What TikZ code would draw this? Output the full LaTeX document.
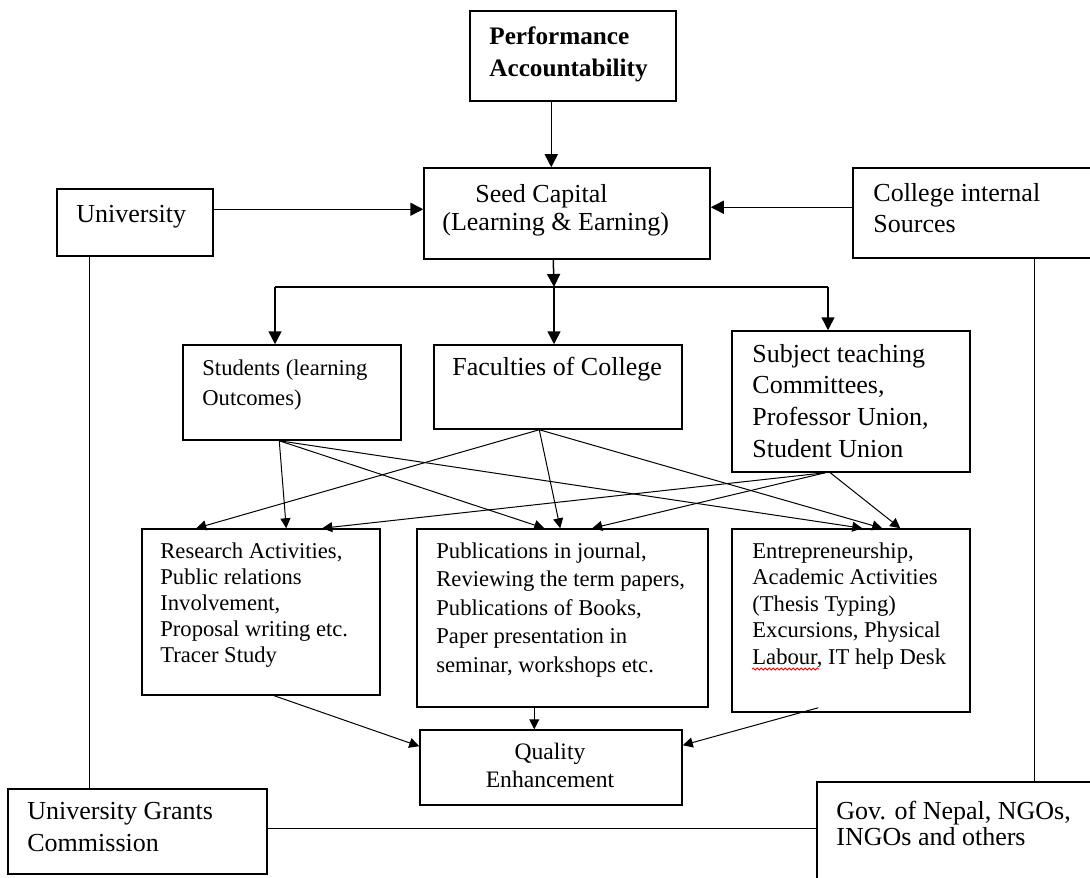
\documentclass[tikz,border=0pt]{standalone}
\usepackage{fontspec}
\setmainfont{Liberation Serif}
\usetikzlibrary{arrows.meta,fit,calc,decorations.pathmorphing}
\begin{document}
\begin{tikzpicture}[x=0.5pt,y=-0.5pt,
  box/.style={draw, line width=0.75pt, inner sep=0pt},
  big/.style={anchor=base west, inner sep=0pt, font=\fontsize{13}{15}\selectfont},
  small/.style={anchor=base west, inner sep=0pt, font=\fontsize{11.3}{13}\selectfont},
  conn/.style={line width=0.75pt},
  arr/.style={line width=0.75pt, -{Triangle[length=6.5pt,width=6.5pt]}},
  xarr/.style={line width=0.5pt, -{Triangle[length=5pt,width=5pt]}}]
\useasboundingbox (0,0) rectangle (1090,877);
\clip (0,0) rectangle (1090,877);
% boxes
\node[box, fit={(470,11) (676,101)}] (pa) {};
\node[box, fit={(424,168) (710,259)}] (seed) {};
\node[box, fit={(57,189) (213,256)}] (univ) {};
\node[box, fit={(853,168) (1100,258)}] (coll) {};
\node[box, fit={(183,345) (401,440)}] (stud) {};
\node[box, fit={(434,345) (682,429)}] (fac) {};
\node[box, fit={(732,331) (970,472)}] (subj) {};
\node[box, fit={(142,529) (380,695)}] (res) {};
\node[box, fit={(417,529) (708,707)}] (pub) {};
\node[box, fit={(732,529) (970,712)}] (ent) {};
\node[box, fit={(420,730) (682,805)}] (qual) {};
\node[box, fit={(8,789) (267,874)}] (ugc) {};
\node[box, fit={(817,782) (1100,900)}] (gov) {};
% texts
\node[big, font=\fontsize{12.6}{15}\selectfont\bfseries] (pa1) at (489,45) {Performance};
\node[big, font=\fontsize{12.6}{15}\selectfont\bfseries] (pa2) at (489,77) {Accountability};
\node[big] (seed1) at (475,202) {Seed Capital};
\node[big] (seed2) at (442,230) {(Learning \& Earning)};
\node[big] (univ1) at (76,222) {University};
\node[big] (coll1) at (873,201) {College internal};
\node[big] (coll2) at (873,232) {Sources};
\node[small] (stud1) at (202,375) {Students (learning};
\node[small] (stud2) at (202,405) {Outcomes)};
\node[big] (fac1) at (452,375) {Faculties of College};
\foreach \t [count=\i] in {{Subject teaching},{Committees,},{Professor Union,},{Student Union}}
  \node[big] (subj\i) at (752,{362+31.7*(\i-1)}) {\t};
\foreach \t [count=\i] in {{Research Activities,},{Public relations},{Involvement,},{Proposal writing etc.},{Tracer Study}}
  \node[small] (res\i) at (160,{558+26*(\i-1)}) {\t};
\foreach \t [count=\i] in {{Publications in journal,},{Reviewing the term papers,},{Publications of Books,},{Paper presentation in},{seminar, workshops etc.}}
  \node[small] (pub\i) at (436,{558+28.5*(\i-1)}) {\t};
\foreach \t [count=\i] in {{Entrepreneurship,},{Academic Activities},{(Thesis Typing)},{Excursions, Physical},{Labour, IT help Desk}}
  \node[small] (ent\i) at (752,{558+26.5*(\i-1)}) {\t};
\node[anchor=base, inner sep=0pt, font=\fontsize{11.8}{14}\selectfont] (q1) at (550,759) {Quality};
\node[anchor=base, inner sep=0pt, font=\fontsize{11.8}{14}\selectfont] (q2) at (550,787) {Enhancement};
\node[big] (ugc1) at (27,819) {University Grants};
\node[big] (ugc2) at (27,851) {Commission};
\node[big] (gov1) at (836,819) {Gov. of Nepal, NGOs,};
\node[big] (gov2) at (836,845) {INGOs and others};
% spell-check squiggle
\draw[red, line width=0.4pt, decorate, decoration={snake, amplitude=0.5pt, segment length=2pt}]
  ($(ent5.base west)+(0,5)$) -- ($(ent5.base west)+(67,5)$);
% top connectors
\draw[arr] ($(pa.south west)+(82,0)$) -- ($(seed.north west)+(128,0)$);
\draw[arr] ($(univ.north east)+(0,21)$) -- ($(seed.north west)+(0,42)$);
\draw[arr] ($(coll.north west)+(0,40)$) -- ($(seed.north east)+(0,40)$);
\coordinate (busL) at (275,287);
\coordinate (busM) at (554,287);
\coordinate (busR) at (828,287);
\draw[arr] ($(seed.south west)+(130,0)$) -- (busM);
\draw[conn] (busL) -- (busR);
\draw[arr] (busL) -- (busL |- stud.north);
\draw[arr] (busM) -- (busM |- fac.north);
\draw[arr] (busR) -- (busR |- subj.north);
% outer frame lines
\draw[conn] ($(univ.south west)+(33,0)$) -- ($(ugc.north west)+(82,0)$);
\draw[conn] ($(coll.south west)+(182,0)$) -- ($(gov.north west)+(218,0)$);
\draw[conn] ($(ugc.north east)+(0,40)$) -- ($(gov.north west)+(0,47)$);
% cross arrows
\coordinate (sS) at ($(stud.south west)+(97,0)$);
\coordinate (fS) at ($(fac.south west)+(106,0)$);
\coordinate (tS) at ($(subj.south west)+(94,0)$);
\draw[xarr] (sS) -- ($(res.north west)+(145,0)$);
\draw[xarr] (sS) -- ($(pub.north west)+(128,0)$);
\draw[xarr] (sS) -- ($(ent.north west)+(131,0)$);
\draw[xarr] (fS) -- ($(res.north west)+(55,0)$);
\draw[xarr] (fS) -- ($(pub.north west)+(144,0)$);
\draw[xarr] (fS) -- ($(ent.north west)+(151,0)$);
\draw[xarr] (tS) -- ($(res.north west)+(181,0)$);
\draw[xarr] (tS) -- ($(pub.north west)+(176,0)$);
\draw[xarr] ($(subj.south west)+(99,0)$) -- ($(ent.north west)+(169,0)$);
% to quality
\draw[xarr] ($(res.south west)+(133,0)$) -- ($(qual.north west)+(0,17)$);
\draw[xarr] ($(pub.south west)+(118,0)$) -- ($(qual.north west)+(115,0)$);
\draw[xarr] ($(ent.south west)+(87,-5)$) -- ($(qual.north east)+(0,16)$);
\end{tikzpicture}
\end{document}
